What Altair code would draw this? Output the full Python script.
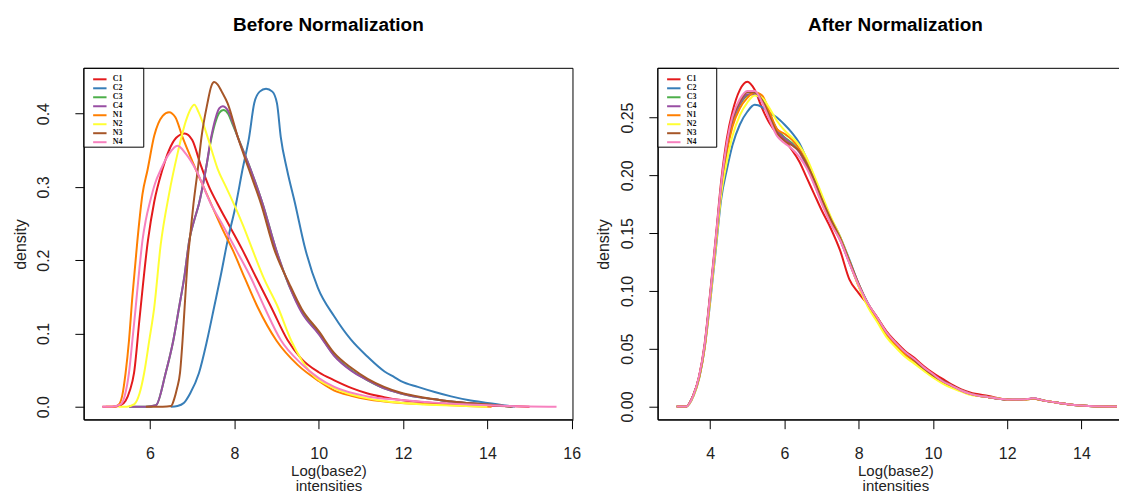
import altair as alt
import pandas as pd

SERIES = ["C1", "C2", "C3", "C4", "N1", "N2", "N3", "N4"]
COLORS = ["#E41A1C", "#377EB8", "#4DAF4A", "#984EA3", "#FF7F00", "#FFFF33", "#A65628", "#F781BF"]

# ---------------- Before normalization (each sample has its own x grid) ----------------
B_C1_x = [4.87, 5.1, 5.3, 5.42, 5.52, 5.62, 5.75, 5.95, 6.1, 6.29, 6.45, 6.62, 6.82, 7.0, 7.2, 7.4, 7.6, 7.9, 8.19, 8.5, 8.87, 9.26, 9.58, 10.0, 10.37, 10.8, 11.16, 11.55, 11.95, 12.75, 13.5, 14.3, 15.0]
B_C1_y = [0, 0, 0.002, 0.008, 0.022, 0.046, 0.12, 0.227, 0.28, 0.323, 0.350, 0.367, 0.373, 0.364, 0.330, 0.300, 0.277, 0.245, 0.214, 0.178, 0.136, 0.091, 0.066, 0.047, 0.036, 0.025, 0.018, 0.013, 0.009, 0.005, 0.003, 0.001, 0]

B_C2_x = [6.49, 6.65, 6.8, 6.95, 7.16, 7.35, 7.52, 7.68, 7.84, 8.04, 8.19, 8.35, 8.47, 8.6, 8.75, 8.9, 9.01, 9.10, 9.25, 9.44, 9.66, 9.98, 10.37, 10.77, 11.16, 11.56, 11.8, 11.95, 12.35, 12.75, 13.14, 13.54, 14.0, 14.65]
B_C2_y = [0, 0.001, 0.005, 0.018, 0.046, 0.09, 0.136, 0.18, 0.227, 0.277, 0.323, 0.368, 0.414, 0.430, 0.434, 0.430, 0.414, 0.368, 0.323, 0.277, 0.220, 0.162, 0.123, 0.091, 0.068, 0.048, 0.040, 0.035, 0.027, 0.020, 0.014, 0.009, 0.005, 0]

B_C3_x = [5.5, 5.9, 6.14, 6.37, 6.55, 6.69, 6.82, 6.93, 7.05, 7.16, 7.32, 7.45, 7.56, 7.64, 7.74, 7.85, 7.96, 8.08, 8.39, 8.67, 8.99, 9.3, 9.6, 10.0, 10.37, 10.77, 11.16, 11.55, 11.95, 12.35, 12.75, 13.14, 13.54, 14.0, 14.6]
B_C3_y = [0, 0, 0.002, 0.046, 0.09, 0.136, 0.18, 0.227, 0.255, 0.277, 0.323, 0.365, 0.390, 0.401, 0.405, 0.400, 0.385, 0.368, 0.323, 0.277, 0.214, 0.165, 0.130, 0.100, 0.070, 0.050, 0.036, 0.025, 0.018, 0.013, 0.010, 0.007, 0.005, 0.003, 0]

B_C4_x = [5.5, 5.9, 6.14, 6.37, 6.55, 6.69, 6.82, 6.93, 7.05, 7.16, 7.32, 7.45, 7.56, 7.64, 7.72, 7.85, 7.96, 8.08, 8.39, 8.67, 8.99, 9.3, 9.6, 10.0, 10.37, 10.77, 11.16, 11.55, 11.95, 12.35, 12.75, 13.14, 13.54, 14.0, 14.6]
B_C4_y = [0, 0, 0.002, 0.046, 0.09, 0.136, 0.18, 0.227, 0.255, 0.277, 0.323, 0.368, 0.395, 0.407, 0.410, 0.404, 0.388, 0.368, 0.323, 0.277, 0.214, 0.165, 0.128, 0.099, 0.069, 0.049, 0.036, 0.025, 0.018, 0.013, 0.010, 0.007, 0.005, 0.003, 0]

B_N1_x = [4.95, 5.15, 5.26, 5.34, 5.42, 5.50, 5.58, 5.70, 5.82, 5.94, 6.1, 6.3, 6.45, 6.6, 6.77, 6.93, 7.09, 7.3, 7.5, 7.72, 7.96, 8.25, 8.55, 9.0, 9.5, 10.0, 10.37, 10.77, 11.16, 11.95, 12.75, 13.5, 14.1]
B_N1_y = [0, 0, 0.003, 0.015, 0.046, 0.09, 0.15, 0.227, 0.29, 0.323, 0.37, 0.397, 0.402, 0.395, 0.368, 0.345, 0.323, 0.296, 0.27, 0.242, 0.214, 0.175, 0.136, 0.09, 0.057, 0.035, 0.022, 0.015, 0.010, 0.005, 0.003, 0.001, 0]

B_N2_x = [5.25, 5.45, 5.62, 5.75, 5.86, 5.98, 6.1, 6.25, 6.45, 6.65, 6.85, 6.95, 7.05, 7.15, 7.28, 7.45, 7.6, 7.8, 8.0, 8.2, 8.43, 8.7, 9.03, 9.34, 9.6, 9.9, 10.3, 10.69, 11.1, 11.5, 12.5, 13.5, 14.0]
B_N2_y = [0, 0, 0.003, 0.018, 0.046, 0.09, 0.136, 0.22, 0.29, 0.345, 0.39, 0.405, 0.412, 0.402, 0.383, 0.352, 0.325, 0.300, 0.275, 0.248, 0.214, 0.175, 0.136, 0.091, 0.063, 0.041, 0.027, 0.018, 0.012, 0.008, 0.003, 0.001, 0]

B_N3_x = [5.9, 6.3, 6.5, 6.57, 6.64, 6.71, 6.77, 6.82, 6.9, 6.94, 7.03, 7.13, 7.22, 7.36, 7.45, 7.52, 7.6, 7.7, 7.84, 8.08, 8.35, 8.63, 8.95, 9.3, 9.6, 10.0, 10.37, 10.77, 11.16, 11.55, 11.95, 12.35, 12.75, 13.14, 13.54, 14.0, 14.57]
B_N3_y = [0, 0, 0.001, 0.01, 0.025, 0.046, 0.09, 0.136, 0.205, 0.227, 0.277, 0.323, 0.368, 0.414, 0.437, 0.443, 0.440, 0.430, 0.414, 0.368, 0.323, 0.277, 0.214, 0.168, 0.133, 0.103, 0.073, 0.053, 0.038, 0.027, 0.019, 0.014, 0.010, 0.007, 0.005, 0.003, 0]

B_N4_x = [4.87, 5.1, 5.3, 5.4, 5.5, 5.58, 5.65, 5.75, 5.82, 5.9, 6.0, 6.12, 6.25, 6.45, 6.65, 6.85, 7.09, 7.44, 7.75, 8.04, 8.4, 8.71, 9.1, 9.58, 10.0, 10.37, 11.16, 11.95, 12.75, 13.54, 14.5, 15.64]
B_N4_y = [0, 0, 0.003, 0.015, 0.046, 0.09, 0.13, 0.19, 0.227, 0.255, 0.28, 0.305, 0.323, 0.345, 0.356, 0.345, 0.323, 0.277, 0.245, 0.214, 0.175, 0.136, 0.091, 0.059, 0.039, 0.027, 0.014, 0.009, 0.0055, 0.003, 0.001, 0]

# ---------------- After normalization (shared x grid) ----------------
A_x = [3.10, 3.35, 3.55, 3.70, 3.85, 4.00, 4.15, 4.30, 4.45, 4.60, 4.80, 5.00, 5.20, 5.40, 5.60, 5.80, 6.00, 6.20, 6.40, 6.60, 6.80, 7.00, 7.25, 7.50, 7.75, 8.00, 8.25, 8.50, 8.75, 9.00, 9.25, 9.50, 9.75, 10.00, 10.25, 10.50, 10.75, 11.00, 11.50, 12.00, 12.40, 12.70, 13.00, 13.40, 13.80, 14.20, 14.96]
A_C1 = [0, 0, 0.010, 0.026, 0.054, 0.098, 0.146, 0.196, 0.232, 0.255, 0.274, 0.281, 0.274, 0.258, 0.245, 0.236, 0.230, 0.222, 0.212, 0.198, 0.184, 0.170, 0.154, 0.135, 0.110, 0.098, 0.088, 0.077, 0.065, 0.056, 0.048, 0.042, 0.035, 0.029, 0.024, 0.019, 0.015, 0.012, 0.009, 0.006, 0.0058, 0.0066, 0.005, 0.003, 0.0012, 0.0004, 0]
A_C2 = [0, 0, 0.009, 0.024, 0.050, 0.090, 0.135, 0.180, 0.205, 0.226, 0.244, 0.255, 0.261, 0.259, 0.254, 0.250, 0.244, 0.237, 0.228, 0.214, 0.198, 0.182, 0.163, 0.147, 0.127, 0.106, 0.089, 0.076, 0.063, 0.054, 0.046, 0.040, 0.033, 0.027, 0.022, 0.018, 0.014, 0.011, 0.008, 0.006, 0.0056, 0.0068, 0.005, 0.003, 0.0012, 0.0004, 0]
A_C3 = [0, 0, 0.010, 0.025, 0.052, 0.095, 0.142, 0.190, 0.222, 0.245, 0.261, 0.269, 0.271, 0.266, 0.253, 0.240, 0.233, 0.228, 0.221, 0.209, 0.194, 0.178, 0.160, 0.145, 0.125, 0.105, 0.088, 0.076, 0.063, 0.054, 0.046, 0.040, 0.033, 0.027, 0.022, 0.018, 0.014, 0.011, 0.008, 0.006, 0.0058, 0.0068, 0.005, 0.003, 0.0012, 0.0004, 0]
A_C4 = [0, 0, 0.010, 0.025, 0.052, 0.095, 0.143, 0.191, 0.224, 0.247, 0.262, 0.270, 0.270, 0.264, 0.252, 0.239, 0.232, 0.227, 0.220, 0.208, 0.193, 0.177, 0.159, 0.144, 0.124, 0.105, 0.088, 0.076, 0.063, 0.054, 0.046, 0.040, 0.033, 0.027, 0.022, 0.018, 0.014, 0.011, 0.008, 0.006, 0.0058, 0.0068, 0.005, 0.003, 0.0012, 0.0004, 0]
A_N1 = [0, 0, 0.010, 0.025, 0.051, 0.094, 0.141, 0.188, 0.220, 0.242, 0.258, 0.267, 0.272, 0.269, 0.255, 0.240, 0.236, 0.231, 0.223, 0.211, 0.196, 0.180, 0.161, 0.145, 0.125, 0.104, 0.087, 0.075, 0.062, 0.053, 0.045, 0.039, 0.032, 0.026, 0.021, 0.017, 0.014, 0.011, 0.008, 0.006, 0.0057, 0.0067, 0.005, 0.003, 0.0012, 0.0004, 0]
A_N2 = [0, 0, 0.009, 0.024, 0.050, 0.092, 0.138, 0.184, 0.212, 0.234, 0.252, 0.263, 0.269, 0.267, 0.258, 0.247, 0.239, 0.233, 0.226, 0.215, 0.200, 0.184, 0.164, 0.147, 0.126, 0.104, 0.086, 0.073, 0.060, 0.051, 0.043, 0.037, 0.031, 0.025, 0.020, 0.016, 0.013, 0.010, 0.008, 0.006, 0.0056, 0.0066, 0.005, 0.003, 0.0012, 0.0004, 0]
A_N3 = [0, 0, 0.010, 0.025, 0.052, 0.096, 0.143, 0.192, 0.226, 0.249, 0.264, 0.272, 0.272, 0.265, 0.251, 0.237, 0.230, 0.226, 0.221, 0.210, 0.196, 0.180, 0.162, 0.146, 0.126, 0.106, 0.089, 0.077, 0.064, 0.055, 0.047, 0.040, 0.033, 0.027, 0.022, 0.018, 0.014, 0.011, 0.008, 0.006, 0.0058, 0.0068, 0.005, 0.003, 0.0012, 0.0004, 0]
A_N4 = [0, 0, 0.010, 0.026, 0.053, 0.097, 0.145, 0.193, 0.228, 0.251, 0.266, 0.273, 0.273, 0.263, 0.248, 0.234, 0.228, 0.223, 0.216, 0.206, 0.192, 0.176, 0.158, 0.144, 0.124, 0.105, 0.089, 0.077, 0.064, 0.055, 0.047, 0.041, 0.034, 0.028, 0.022, 0.018, 0.014, 0.011, 0.008, 0.006, 0.0060, 0.0070, 0.005, 0.003, 0.0012, 0.0004, 0]

BEFORE = {"C1": (B_C1_x, B_C1_y), "C2": (B_C2_x, B_C2_y), "C3": (B_C3_x, B_C3_y), "C4": (B_C4_x, B_C4_y),
          "N1": (B_N1_x, B_N1_y), "N2": (B_N2_x, B_N2_y), "N3": (B_N3_x, B_N3_y), "N4": (B_N4_x, B_N4_y)}
AFTER = {"C1": A_C1, "C2": A_C2, "C3": A_C3, "C4": A_C4, "N1": A_N1, "N2": A_N2, "N3": A_N3, "N4": A_N4}

rows = []
for s in SERIES:
    xs, ys = BEFORE[s]
    for i, (xv, yv) in enumerate(zip(xs, ys)):
        rows.append({"series": s, "x": xv, "y": yv, "i": i})
before_df = pd.DataFrame(rows)

rows = []
for s in SERIES:
    for i, (xv, yv) in enumerate(zip(A_x, AFTER[s])):
        rows.append({"series": s, "x": xv, "y": yv, "i": i})
after_df = pd.DataFrame(rows)

FONT = "Liberation Sans"
TXT = "#222222"
H = 352
W1 = 490
W2 = 476


def axis_x(values):
    return alt.Axis(values=values, format="d", title=["Log(base2)", "intensities"], grid=False,
                    domainColor="black", tickColor="black", tickSize=9, labelPadding=17,
                    labelFont=FONT, labelFontSize=16, labelColor=TXT, labelFlush=False,
                    titleFont=FONT, titleFontSize=15, titleFontWeight="normal", titleColor=TXT,
                    titlePadding=2, titleLineHeight=15)


def axis_y(values, fmt, lpad, tpad):
    return alt.Axis(values=values, format=fmt, title="density", grid=False,
                    domainColor="black", tickColor="black", tickSize=9, labelPadding=lpad,
                    labelAngle=-90, labelAlign="center", labelBaseline="bottom",
                    labelFont=FONT, labelFontSize=16, labelColor=TXT, labelFlush=False,
                    titleFont=FONT, titleFontSize=16, titleFontWeight="normal", titleColor=TXT,
                    titlePadding=tpad)


def legend():
    return alt.Legend(title=None, orient="top-left", offset=0,
                      padding=7, symbolType="M-3,0H3", symbolSize=20, symbolStrokeWidth=2,
                      symbolOffset=5, labelOffset=9, rowPadding=1,
                      labelFont="Liberation Serif", labelFontSize=8, labelFontWeight="bold",
                      labelColor="#111111")


def panel(df, title, xdom, xticks, ydom, yticks, yfmt, w, right_edge, lpad, tpad, box_w):
    lines = alt.Chart(df).mark_line(strokeWidth=2, interpolate="monotone", clip=True).encode(
        x=alt.X("x:Q", scale=alt.Scale(domain=xdom, nice=False, zero=False), axis=axis_x(xticks)),
        y=alt.Y("y:Q", scale=alt.Scale(domain=ydom, nice=False, zero=False), axis=axis_y(yticks, yfmt, lpad, tpad)),
        color=alt.Color("series:N", scale=alt.Scale(domain=SERIES, range=COLORS), legend=legend()),
        order="i:Q",
    )
    frame = pd.DataFrame({"k": [0]})
    legend_box = alt.Chart(frame).mark_rect(fill="white", stroke="black", strokeWidth=1).encode(
        x=alt.value(0), x2=alt.value(box_w), y=alt.value(0), y2=alt.value(79))
    top = alt.Chart(frame).mark_rule(color="black", strokeWidth=1).encode(
        x=alt.value(0), x2=alt.value(w), y=alt.value(0))
    bottom = alt.Chart(frame).mark_rule(color="black", strokeWidth=1).encode(
        x=alt.value(0), x2=alt.value(w), y=alt.value(H))
    leftl = alt.Chart(frame).mark_rule(color="black", strokeWidth=1).encode(
        x=alt.value(0), y=alt.value(0), y2=alt.value(H))
    layers = [lines, legend_box, top, bottom, leftl]
    if right_edge:
        right = alt.Chart(frame).mark_rule(color="black", strokeWidth=1).encode(
            x=alt.value(w), y=alt.value(0), y2=alt.value(H))
        layers.append(right)
    return alt.layer(*layers).properties(
        width=w, height=H,
        title=alt.TitleParams(title, font=FONT, fontSize=19, fontWeight="bold", color="black",
                              anchor="middle", offset=33),
    )


left = panel(before_df, "Before Normalization", [4.43, 16.03], [6, 8, 10, 12, 14, 16],
             [-0.0178, 0.4618], [0, 0.1, 0.2, 0.3, 0.4], ".1f", W1, True, 23, 7, 60)
right = panel(after_df, "After Normalization", [2.59, 15.39], [4, 6, 8, 10, 12, 14],
              [-0.0115, 0.2926], [0, 0.05, 0.1, 0.15, 0.2, 0.25], ".2f", W2, False, 13, 8, 59)

chart = alt.hconcat(left, right, spacing=13).resolve_scale(
    color="independent"
).resolve_legend(
    color="independent"
).properties(
    padding={"left": 4, "top": 7, "right": -15, "bottom": -2},
    background="white",
).configure_view(stroke="transparent")

chart.save("out.html", embed_options={"renderer": "svg", "actions": False})
